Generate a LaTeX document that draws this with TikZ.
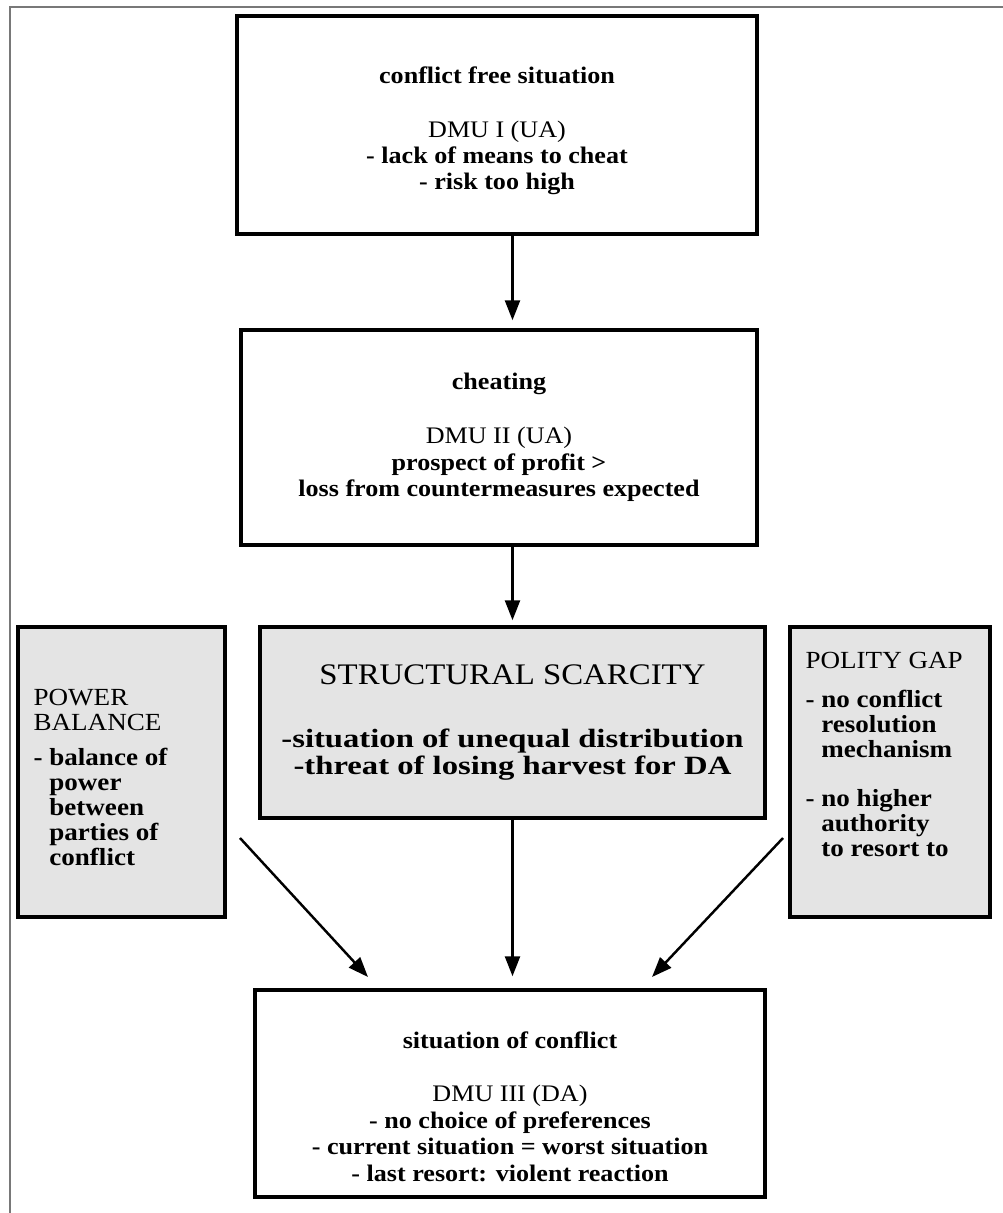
\documentclass[tikz,border=0pt]{standalone}
\usepackage{fontspec}
\setmainfont[FakeStretch=1.1]{Liberation Serif}
\newfontfamily\widefont[FakeStretch=1.24]{Liberation Serif}
\usepackage{tikz}
\usetikzlibrary{arrows.meta}
\usetikzlibrary{positioning}
\definecolor{boxgray}{RGB}{228,228,228}
\definecolor{framegray}{RGB}{120,120,120}
\tikzset{box/.style = {draw, line width = 2pt, align = center, inner sep = 0,
    font = \fontsize{13.5}{15}\selectfont\bfseries}}
\tikzset{graybox/.style = {box, fill = boxgray}}
\tikzset{sidetext/.style = {align = left, inner sep = 0,
    font = \fontsize{14}{14.2}\selectfont\bfseries}}
\tikzset{arr/.style = {-{Triangle[length = 0.4cm, width = 0.3cm]}, line width = 1.4pt}}

\begin{document}
\begin{tikzpicture}[x = 0.02cm, y = -0.02cm]
  \useasboundingbox (0, 0) rectangle (1003, 1213);
  \draw [framegray, line width = 1pt] (10, 1213) -- (10, 7) -- (1003, 7);

  \node [box, minimum width = 10.4cm, minimum height = 4.36cm] (free) at (497, 125)
    {\rule{0pt}{0.57cm}conflict free situation\\[0.55cm] \textmd{DMU I (UA)}\\ - lack of means to cheat\\ - risk too high};
  \node [box, minimum width = 10.32cm, minimum height = 4.3cm] (cheat) at (499, 437.5)
    {cheating\\[0.55cm] \textmd{DMU II (UA)}\\ prospect of profit >\\ loss from countermeasures expected};

  \node [graybox, minimum width = 10.1cm, minimum height = 3.82cm,
    font = \widefont\fontsize{15}{15.6}\selectfont\bfseries] (scarce) at (512.5, 722.5)
    {{\rmfamily\fontsize{17}{19}\selectfont\mdseries STRUCTURAL SCARCITY}\\[0.72cm]
     -situation of unequal distribution\\ -threat of losing harvest for DA};

  \node [graybox, minimum width = 4.14cm, minimum height = 5.8cm] (power) at (121.5, 772) {};
  \node [sidetext, below right = 1.28cm and 0.34cm of power.north west] (powertxt)
    {\textmd{POWER}\\ \textmd{BALANCE}\\[0.2cm] - balance of\\ \phantom{- }power\\
     \phantom{- }between\\ \phantom{- }parties of\\ \phantom{- }conflict};

  \node [graybox, minimum width = 4cm, minimum height = 5.8cm] (gap) at (890, 772) {};
  \node [sidetext, below right = 0.54cm and 0.34cm of gap.north west] (gaptxt)
    {\textmd{POLITY GAP}\\[0.28cm] - no conflict\\ \phantom{- }resolution\\ \phantom{- }mechanism\\[0.48cm]
     - no higher\\ \phantom{- }authority\\ \phantom{- }to resort to};

  \node [box, minimum width = 10.2cm, minimum height = 4.14cm] (sit) at (510, 1093.5)
    {\rule{0pt}{0.85cm}situation of conflict\\[0.55cm] \textmd{DMU III (DA)}\\ - no choice of preferences\\
     - current situation = worst situation\\ - last resort: violent reaction};

  \coordinate (pbtail) at (240, 838);
  \coordinate (pbhead) at (368, 977);
  \coordinate (gaptail) at (783, 838);
  \coordinate (gaphead) at (652, 977);

  \draw [arr, shorten > = 0.16cm] (free.south -| scarce) -- (cheat.north -| scarce);
  \draw [arr, shorten > = 0.1cm] (cheat.south -| scarce) -- (scarce.north);
  \draw [arr, shorten > = 0.24cm] (scarce.south) -- (sit.north -| scarce);
  \draw [arr] (pbtail) -- (pbhead);
  \draw [arr] (gaptail) -- (gaphead);
\end{tikzpicture}
\end{document}
